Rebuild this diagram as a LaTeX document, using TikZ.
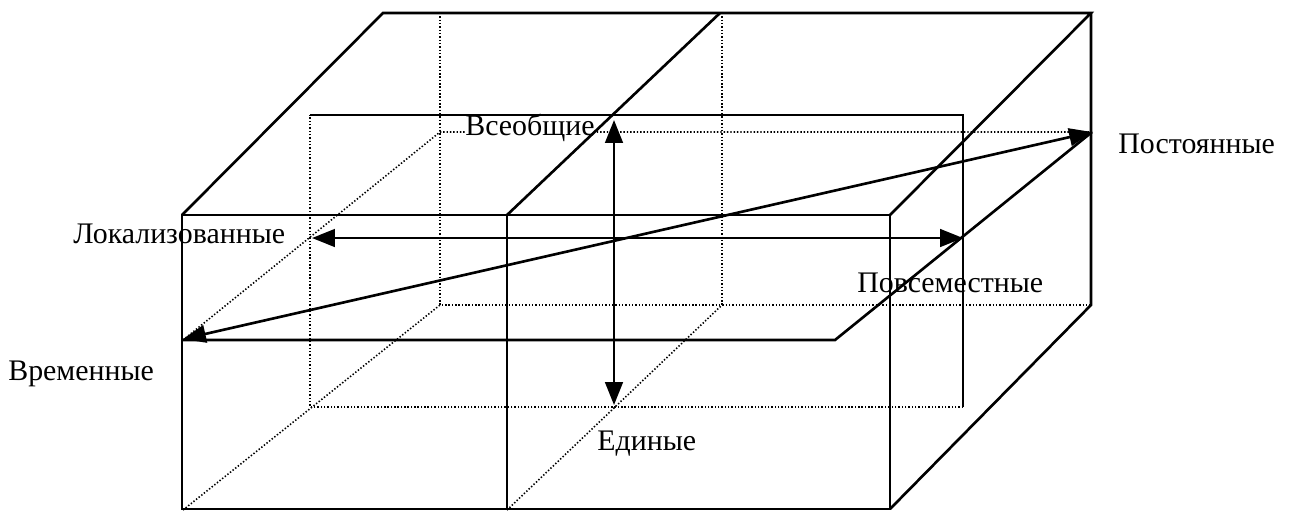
\documentclass[tikz,border=0pt]{standalone}
\usepackage{fontspec}
\setmainfont{Liberation Serif}
\usetikzlibrary{arrows.meta}
\tikzset{
	edge/.style = {line width=1.5pt},
	hidden/.style = {line width=0.9pt, dash pattern=on 0.8pt off 1.1pt},
	axis/.style = {line width=1.5pt, {Triangle[length=13pt,width=10pt]}-{Triangle[length=13pt,width=10pt]}},
	lbl/.style = {font=\fontsize{17}{19}\selectfont, inner sep=0pt}
}
\begin{document}
\begin{tikzpicture}[x = 0.02cm, y = -0.02cm]
		\useasboundingbox (0,0) rectangle (1290,512);
		% hidden edges
		\draw [hidden] (440,13) -- (440,305) -- (1091,305);
		\draw [hidden] (722,13) -- (722,305);
		\draw [hidden] (183,510) -- (440,305);
		\draw [hidden] (507,510) -- (722,305);
		\draw [hidden] (963,407) -- (310,407) -- (310,115);
		\draw [hidden] (183,340) -- (440,132) -- (1092,132);
		\node [lbl, anchor=base west, fill=white] (vseob) at (465,135) {Всеобщие};
		% planes
		\draw [edge] (310,115) -- (963,115) -- (963,407);
		\draw [edge] (183,340) -- (835,340) -- (1092,132);
		% box
		\draw [edge] (182,215) rectangle (890,509);
		\draw [edge] (182,215) -- (383,13) -- (1091,13) -- (890,215);
		\draw [edge] (1091,13) -- (1091,305) -- (890,509);
		\draw [edge] (507,215) -- (507,509);
		\draw [edge] (507,215) -- (720,13);
		% axes
		\coordinate (vtop) at (614,120);
		\coordinate (vbot) at (614,405);
		\coordinate (hl) at (312,238);
		\coordinate (hr) at (963,238);
		\coordinate (dl) at (183,339);
		\coordinate (dr) at (1092,132);
		\draw [axis] (vbot) -- (vtop);
		\draw [axis] (hl) -- (hr);
		\draw [axis] (dl) -- (dr);
		\node [lbl, anchor=base west] (loc) at (73,243) {Локализованные};
		\node [lbl, anchor=base west] (vrem) at (8,380) {Временные};
		\node [lbl, anchor=base west] (post) at (1118,153) {Постоянные};
		\node [lbl, anchor=base west] (povs) at (857,292) {Повсеместные};
		\node [lbl, anchor=base west] (edin) at (597,450) {Единые};
\end{tikzpicture}
\end{document}
